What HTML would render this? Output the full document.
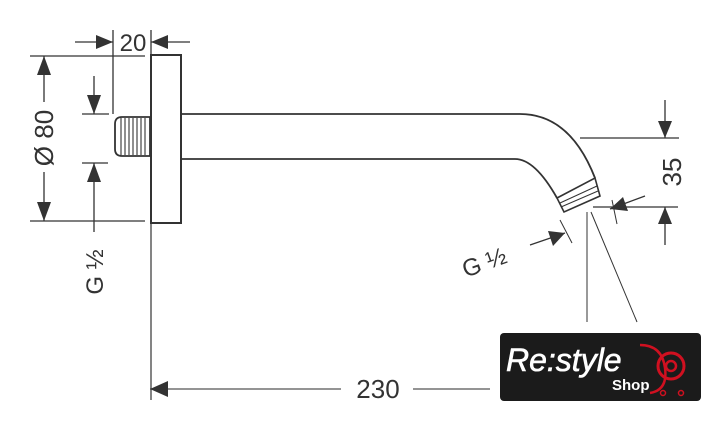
<!DOCTYPE html>
<html><head><style>
html,body{margin:0;padding:0;background:#fff;}
svg{display:block;}
text{font-family:"Liberation Sans",sans-serif;fill:#333;}
</style></head><body>
<svg width="712" height="424" viewBox="0 0 712 424" xmlns="http://www.w3.org/2000/svg">
<g stroke="#333" stroke-width="1.3" fill="none">
<rect x="151" y="55" width="30" height="168" stroke-width="2"/>
<path d="M151 98 L151 400" stroke-width="1.2"/>
<path d="M150 117 L122 117 Q115 117 115 124 L115 149 Q115 156 122 156 L150 156 Z" stroke-width="1.8"/>
<g stroke-width="1.1">
<line x1="121" y1="118" x2="121" y2="155"/><line x1="125" y1="118" x2="125" y2="155"/>
<line x1="129" y1="118" x2="129" y2="155"/><line x1="133" y1="118" x2="133" y2="155"/>
<line x1="137" y1="118" x2="137" y2="155"/><line x1="141" y1="118" x2="141" y2="155"/>
<line x1="145" y1="118" x2="145" y2="155"/>
</g>
<path d="M181 114 L520 114 Q570 114 595 178" stroke-width="1.8"/>
<path d="M181 159 L515 159 Q535 159 557 198" stroke-width="1.8"/>
<path d="M557 198 L595 178 L600 196 L564 212 Z" stroke-width="1.6"/>
<line x1="560" y1="203" x2="597" y2="186" stroke-width="1"/>
<line x1="561" y1="207" x2="598" y2="191" stroke-width="1"/>
<line x1="113" y1="30" x2="113" y2="114"/>
<line x1="75" y1="42" x2="113" y2="42"/>
<line x1="151" y1="30" x2="151" y2="55"/>
<line x1="151" y1="42" x2="190" y2="42"/>
<line x1="30" y1="56" x2="145" y2="56"/>
<line x1="30" y1="221" x2="145" y2="221"/>
<line x1="44" y1="56" x2="44" y2="102"/>
<line x1="44" y1="172" x2="44" y2="221"/>
<line x1="82" y1="114" x2="109" y2="114"/>
<line x1="94" y1="76" x2="94" y2="114"/>
<line x1="82" y1="163" x2="108" y2="163"/>
<line x1="94" y1="163" x2="94" y2="232"/>
<line x1="150" y1="389" x2="341" y2="389" stroke="#555"/>
<line x1="413" y1="389" x2="490" y2="389" stroke="#555"/>
<line x1="580" y1="138" x2="679" y2="138"/>
<line x1="665" y1="100" x2="665" y2="138"/>
<line x1="593" y1="207" x2="678" y2="207"/>
<line x1="665" y1="207" x2="665" y2="245"/>
<line x1="645" y1="196" x2="610" y2="209"/>
<line x1="612" y1="200" x2="617" y2="224" stroke-width="1"/>
<line x1="587" y1="212" x2="587" y2="322" stroke-width="1"/>
<line x1="591" y1="212" x2="637" y2="322" stroke-width="1"/>
<line x1="530" y1="245" x2="565" y2="233"/>
<line x1="560" y1="220" x2="572" y2="243" stroke-width="1"/>
</g>
<g fill="#333">
<polygon points="113,42 96,35 96,49"/>
<polygon points="151,42 168,35 168,49"/>
<polygon points="44,56 37,75 51,75"/>
<polygon points="44,221 37,202 51,202"/>
<polygon points="94,114 87,95 101,95"/>
<polygon points="94,163 87,182 101,182"/>
<polygon points="150,389 168,381 168,397"/>
<polygon points="665,138 658,121 672,121"/>
<polygon points="665,207 658,224 672,224"/>
<polygon points="610,209 623,197 628,211"/>
<polygon points="565,233 548,231 553,246"/>
</g>
<text x="133" y="51" font-size="24" text-anchor="middle">20</text>
<text transform="translate(53,138) rotate(-90)" font-size="26" text-anchor="middle">Ø 80</text>
<text transform="translate(103,272) rotate(-90)" font-size="24" text-anchor="middle">G ½</text>
<text x="378" y="398" font-size="26" text-anchor="middle">230</text>
<text transform="translate(681,172) rotate(-90)" font-size="26" text-anchor="middle">35</text>
<text transform="translate(487,270) rotate(-20)" font-size="24" text-anchor="middle">G ½</text>
<rect x="500" y="333" width="201" height="68" rx="4" fill="#1b1b1b"/>
<path d="M640 345 Q662 345 665 368 Q668 390 650 393" stroke="#d01020" stroke-width="2.5" fill="none"/>
<circle cx="671" cy="366" r="13" fill="none" stroke="#d01020" stroke-width="3"/>
<circle cx="671" cy="366" r="5" fill="none" stroke="#d01020" stroke-width="2.5"/>
<circle cx="663" cy="393" r="2.5" fill="none" stroke="#d01020" stroke-width="1.5"/>
<circle cx="681" cy="393" r="2.5" fill="none" stroke="#d01020" stroke-width="1.5"/>
<text x="506" y="371" font-size="32" font-style="italic" stroke="#fff" stroke-width="0.6" style="fill:#fff">Re:style</text>
<text x="612" y="390" font-size="15" font-weight="bold" style="fill:#fff">Shop</text>
</svg>
</body></html>
